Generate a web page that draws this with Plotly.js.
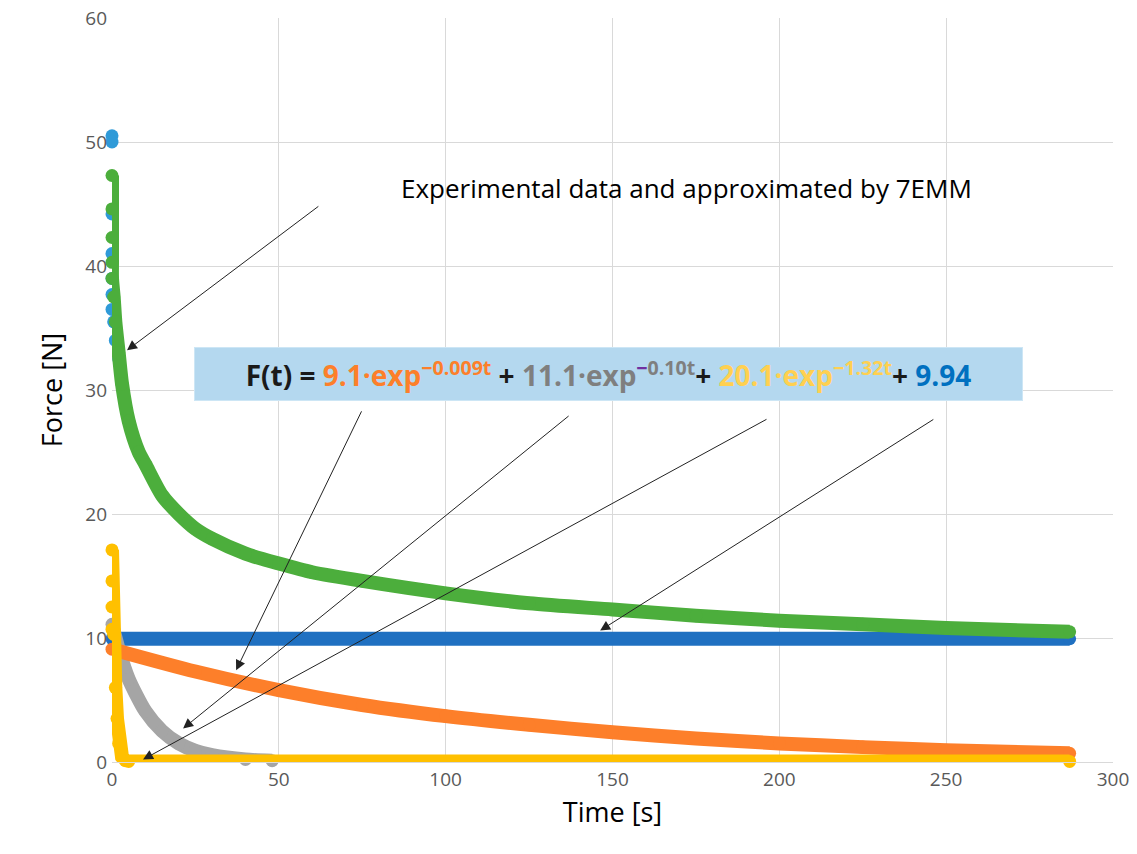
<!DOCTYPE html>
<html><head><meta charset="utf-8">
<script src="https://cdn.plot.ly/plotly-3.0.1.min.js"></script>
<style>body{margin:0;background:#fff}</style></head>
<body><div id="chart" style="width:1137px;height:854px"></div>
<script>
// values
var expT = [0, 0, 0, 0, 0, 0, 0, 0.5, 1, 2, 3, 5];
var expF = [50.5, 50, 44.2, 41, 39, 37.7, 36.5, 35.5, 34, 32.5, 30.5, 27.5];
var fitT = [0, 0, 0, 0, 0, 0.5, 1, 2, 3, 5, 8, 10, 15, 20, 25, 30, 40, 50, 60, 75, 100, 125, 150, 175, 200, 225, 250, 287];
var fitF = [47.3, 44.6, 42.3, 40.3, 39, 37.5, 35.5, 33, 30.5, 27.5, 25, 24, 21.5, 20, 18.8, 18, 16.8, 16, 15.3, 14.6, 13.6, 12.8, 12.3, 11.8, 11.4, 11.1, 10.8, 10.5];
var constT = [0, 287];
var constF = [9.94, 9.94];
var orT = [0, 25, 50, 75, 100, 125, 150, 175, 200, 225, 250, 287];
var orF = [9.1, 7.3, 5.8, 4.6, 3.7, 3.0, 2.4, 1.9, 1.5, 1.2, 0.95, 0.7];
var grT = [0, 2, 5, 10, 15, 20, 25, 30, 40, 48];
var grF = [11.1, 9.1, 6.7, 4.1, 2.5, 1.5, 0.9, 0.55, 0.2, 0.1];
var yeT = [0, 0, 0, 0, 0.5, 1, 1.5, 2, 3, 4, 5, 287];
var yeF = [17.1, 14.6, 12.5, 10.7, 10.3, 6, 3.5, 1.5, 0.4, 0.1, 0.05, 0.05];

function tr(x, y, c, mode, shape) {
  return {x: x, y: y, type: 'scatter', mode: mode, cliponaxis: false,
    line: {color: c, width: 14, shape: shape, smoothing: 0.7}, marker: {color: c, size: 13}, hoverinfo: 'skip'};
}
var data = [
  tr(expT, expF, '#2f9ad8', 'markers', 'linear'),
  tr(constT, constF, '#1f70c1', 'lines+markers', 'linear'),
  tr(grT, grF, '#a5a5a5', 'lines+markers', 'spline'),
  tr(orT, orF, '#fd7f2a', 'lines+markers', 'spline'),
  tr(yeT, yeF, '#ffc000', 'lines+markers', 'linear'),
  tr(fitT, fitF, '#4cae3c', 'lines+markers', 'spline')
];

function arrow(tx, ty, hx, hy) {
  return {x: hx, y: hy, ax: tx, ay: ty, xref: 'x', yref: 'y', axref: 'x', ayref: 'y',
    text: '', showarrow: true, arrowhead: 2, arrowsize: 2, arrowwidth: 1, arrowcolor: '#222'};
}
var eq = '<b>F(t) = <span style="color:#fd7f2a">9.1·exp<sup>−0.009t</sup></span> + ' +
  '<span style="color:#7f7f7f">11.1·exp<sup><span style="color:#7030a0">−</span>0.10t</sup></span>+ ' +
  '<span style="color:#ffd050">20.1·exp<sup>−1.32t</sup></span>+ <span style="color:#0070c0">9.94</span></b>';

var layout = {
  width: 1137, height: 854, showlegend: false,
  paper_bgcolor: '#fff', plot_bgcolor: '#fff',
  margin: {l: 112, r: 24, t: 18, b: 92},
  font: {family: 'Open Sans, Calibri, sans-serif'},
  xaxis: {range: [0, 300], dtick: 50, showgrid: true, gridcolor: '#d9d9d9', zeroline: false,
    showline: true, linecolor: '#d9d9d9', tickfont: {size: 19, color: '#595959'}, ticks: '',
    title: {text: 'Time [s]', font: {size: 27, color: '#000'}, standoff: 12}},
  yaxis: {range: [0, 60], dtick: 10, showgrid: true, gridcolor: '#d9d9d9', zeroline: false,
    tickfont: {size: 19, color: '#595959'}, ticks: '', ticklabelstandoff: 4,
    title: {text: 'Force [N]', font: {size: 27, color: '#000'}, standoff: 14}},
  annotations: [
    arrow(62.3, 44.9, 4.5, 33.2),
    arrow(75, 28.4, 37.2, 7.4),
    arrow(137.3, 28, 21.3, 2.7),
    arrow(196.6, 27.7, 9.3, 0.2),
    arrow(246.6, 27.7, 146.3, 10.6),
    {x: 172.3, y: 46.3, xref: 'x', yref: 'y', showarrow: false,
      text: 'Experimental data and approximated by 7EMM', font: {size: 26, color: '#000'}},
    {x: 148.7, y: 31.3, xref: 'x', yref: 'y', showarrow: false, text: eq,
      width: 825, height: 50, bgcolor: '#b4d8ef', bordercolor: '#cde6f5', borderwidth: 1,
      font: {size: 28, color: '#1a1a1a'}}
  ]
};
Plotly.newPlot('chart', data, layout, {displayModeBar: false, staticPlot: true});
</script></body></html>
